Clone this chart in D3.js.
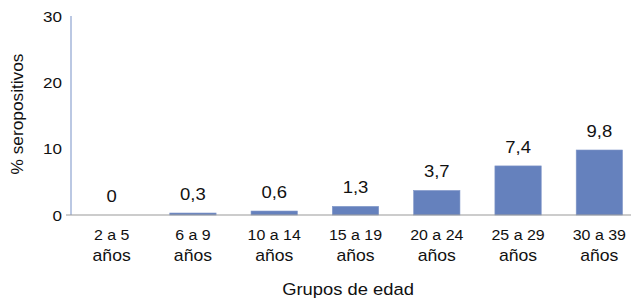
<!DOCTYPE html>
<html>
<head>
<meta charset="utf-8">
<script src="https://cdn.jsdelivr.net/npm/d3@7"></script>
<style>
  body { margin: 0; background: #fff; }
  text { font-family: "Liberation Sans", Arial, sans-serif; fill: #111; }
</style>
</head>
<body>
<div id="chart"></div>
<script>
"use strict";

var groups = ["2 a 5", "6 a 9", "10 a 14", "15 a 19", "20 a 24", "25 a 29", "30 a 39"];
var values = [0, 0.3, 0.6, 1.3, 3.7, 7.4, 9.8];
var yTicks = [0, 10, 20, 30];

var width = 631, height = 302;
var sx = 1.1; // text in the source looks a bit wider than the font

var svg = d3.select("#chart").append("svg")
    .attr("width", width)
    .attr("height", height);

var x = d3.scaleBand()
    .domain(groups)
    .range([71, 640])
    .paddingInner(0.43)
    .paddingOuter(0.215);

var y = d3.scaleLinear()
    .domain([0, 30])
    .range([215, 16]);

function place(px, py) {
    return "translate(" + px + "," + py + ") scale(" + sx + ",1)";
}

// bars
svg.append("g")
    .selectAll("rect")
    .data(values)
    .enter().append("rect")
    .attr("x", function (d, i) { return x(groups[i]); })
    .attr("width", x.bandwidth())
    .attr("y", function (d) { return y(d); })
    .attr("height", function (d) { return y(0) - y(d); })
    .attr("fill", "#6581bd")
    .attr("stroke", "#8097c9")
    .attr("stroke-width", 0.6);

// value labels
svg.append("g")
    .selectAll("text")
    .data(values)
    .enter().append("text")
    .attr("transform", function (d, i) {
        return place(x(groups[i]) + x.bandwidth() / 2, y(d) - 13);
    })
    .attr("text-anchor", "middle")
    .style("font-size", "16.8px")
    .text(function (d) { return String(d).replace(".", ","); });

// y axis line
svg.append("line")
    .attr("x1", 71).attr("x2", 71)
    .attr("y1", y(30)).attr("y2", y(0))
    .attr("stroke", "#8ea3d0")
    .attr("stroke-width", 1.2);

// x axis line
svg.append("line")
    .attr("x1", 66).attr("x2", width)
    .attr("y1", y(0)).attr("y2", y(0))
    .attr("stroke", "#9a9a9a")
    .attr("stroke-width", 1.2);

// y tick labels
svg.append("g")
    .selectAll("text")
    .data(yTicks)
    .enter().append("text")
    .attr("transform", function (d) { return place(62, y(d) + 5.5); })
    .attr("text-anchor", "end")
    .style("font-size", "15.5px")
    .text(function (d) { return d; });

// category labels (two lines)
var cat = svg.append("g")
    .selectAll("text")
    .data(groups)
    .enter().append("text")
    .attr("transform", function (d) { return place(x(d) + x.bandwidth() / 2, 240); })
    .attr("text-anchor", "middle");

cat.append("tspan")
    .attr("x", 0)
    .attr("y", 0)
    .style("font-size", "14.5px")
    .text(function (d) { return d; });

cat.append("tspan")
    .attr("x", 0)
    .attr("y", 21)
    .style("font-size", "16px")
    .text("años");

// axis titles
svg.append("text")
    .attr("transform", place(348, 295))
    .attr("text-anchor", "middle")
    .style("font-size", "16.7px")
    .text("Grupos de edad");

svg.append("text")
    .attr("transform", "translate(23,114) rotate(-90)")
    .attr("text-anchor", "middle")
    .style("font-size", "17.3px")
    .text("% seropositivos");
</script>
</body>
</html>
